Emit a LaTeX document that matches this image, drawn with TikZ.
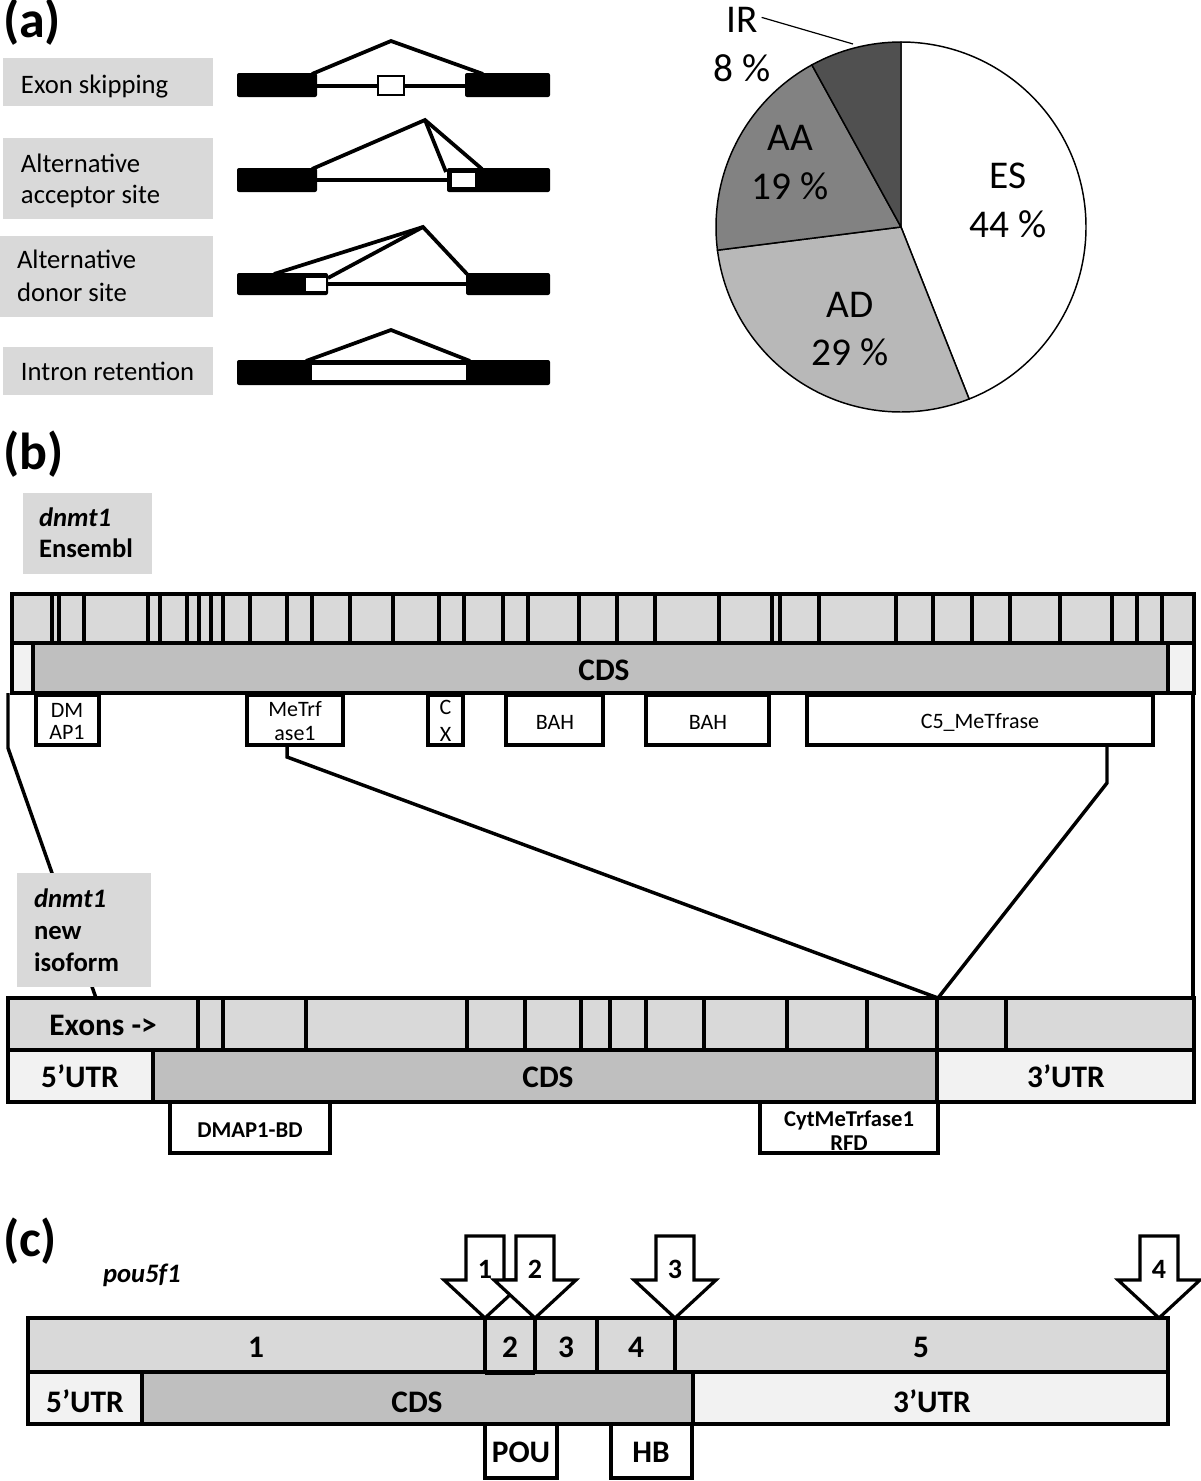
\documentclass[tikz,border=0pt]{standalone}
\usepackage{fontspec}
\setmainfont{Carlito}
\usetikzlibrary{calc}
\definecolor{labgray}{HTML}{D9D9D9}
\definecolor{exongray}{HTML}{D9D9D9}
\definecolor{cdsgray}{HTML}{BFBFBF}
\definecolor{utrgray}{HTML}{F2F2F2}
\definecolor{piead}{HTML}{B8B8B8}
\definecolor{pieaa}{HTML}{828282}
\definecolor{pieir}{HTML}{505050}
\newcommand{\mydnarrow}[3]{%
  \filldraw[fill=white,draw=black,line width=2.4pt,line join=miter]
    (#2-19,1236) -- (#2+19,1236) -- (#2+19,1280) -- (#2+41,1280) -- (#2,1318)
    -- (#2-41,1280) -- (#2-19,1280) -- cycle;
  \node[anum] (#1) at (#2,1278) {#3};}
\begin{document}
\begin{tikzpicture}[x=0.75pt,y=-0.75pt,
  every node/.style={inner sep=0pt,outer sep=0pt},
  panel/.style={font=\bfseries\fontsize{39}{44}\selectfont,anchor=base west},
  lab/.style={font=\fontsize{20}{24}\selectfont,anchor=base west},
  glab/.style={font=\bfseries\fontsize{20}{24}\selectfont,anchor=base west},
  pietxt/.style={font=\fontsize{29.5}{34}\selectfont,anchor=base},
  bartxt/.style={font=\bfseries\fontsize{23.5}{28}\selectfont,anchor=base},
  domtxt/.style={font=\fontsize{16.5}{20}\selectfont,anchor=base},
  bdomtxt/.style={font=\bfseries\fontsize{17}{20}\selectfont,anchor=base},
  anum/.style={font=\bfseries\fontsize{21}{24}\selectfont,anchor=base},
  lw/.style={line width=2.6pt},
  dlw/.style={line width=2.4pt},
  dombox/.style={draw=black,fill=white,line width=2.3pt,anchor=north west},
  blk/.style={fill=black,rounded corners=1.5pt},
  wbox/.style={fill=white,draw=black,line width=2.2pt},
  spl/.style={line width=2.8pt,line join=miter},
  conn/.style={line width=2.6pt,line join=miter}]
\useasboundingbox (0,0) rectangle (1200,1481);

% ================= panel (a) =================
\node[panel] (pa) at (3,37) {(a)};

\fill[labgray] (3,58) rectangle (213,106);
\node[lab] (l1) at (21,93) {Exon skipping};
\fill[labgray] (3,138) rectangle (213,219);
\node[lab] (l2a) at (21,172) {Alternative};
\node[lab] (l2b) at (21,203) {acceptor site};
\fill[labgray] (0,236) rectangle (213,317);
\node[lab] (l3a) at (17,268) {Alternative};
\node[lab] (l3b) at (17,301) {donor site};
\fill[labgray] (3,347) rectangle (213,395);
\node[lab] (l4) at (21,380) {Intron retention};

% row 1: exon skipping
\draw[spl] (317,86) -- (465,86);
\fill[blk] (237,73) rectangle (317,97);
\fill[blk] (465,73) rectangle (550,97);
\filldraw[wbox] (378,76) rectangle (404,95);
\draw[spl] (312,74) -- (391,41) -- (483,74);
% row 2: alternative acceptor
\draw[spl] (317,180) -- (447,180);
\fill[blk] (237,168) rectangle (317,192);
\fill[blk] (447,168) rectangle (550,192);
\filldraw[wbox] (451,172) rectangle (476,188);
\draw[spl] (312,169) -- (425,120) -- (482,169);
\draw[spl] (425,120) -- (446,172);
% row 3: alternative donor
\draw[spl] (328,284) -- (466,284);
\fill[blk] (237,273) rectangle (328,295);
\fill[blk] (466,273) rectangle (550,295);
\filldraw[wbox] (305,277) rectangle (327,292);
\draw[spl] (274,274) -- (423,227) -- (467,274);
\draw[spl] (328,278) -- (423,227);
% row 4: intron retention
\fill[blk] (237,360) rectangle (550,385);
\fill[white] (312,365) rectangle (466,380);
\draw[spl] (306,361) -- (391,330) -- (470,361);

% pie
\coordinate (pc) at (901,227);
\filldraw[fill=white,draw=black,line width=1.1pt] (pc) -- ++(-90:185) arc[start angle=-90,end angle=68.4,radius=185] -- cycle;
\filldraw[fill=piead,draw=black,line width=1.1pt] (pc) -- ++(68.4:185) arc[start angle=68.4,end angle=172.8,radius=185] -- cycle;
\filldraw[fill=pieaa,draw=black,line width=1.1pt] (pc) -- ++(172.8:185) arc[start angle=172.8,end angle=241.2,radius=185] -- cycle;
\filldraw[fill=pieir,draw=black,line width=1.1pt] (pc) -- ++(241.2:185) arc[start angle=241.2,end angle=270,radius=185] -- cycle;
\node[pietxt] (es1) at (1008,188) {ES};
\node[pietxt] (es2) at (1008,237) {44 \%};
\node[pietxt] (ad1) at (850,317) {AD};
\node[pietxt] (ad2) at (850,365) {29 \%};
\node[pietxt] (aa1) at (790,150) {AA};
\node[pietxt] (aa2) at (790,199) {19 \%};
\node[pietxt] (ir1) at (742,32) {IR};
\node[pietxt] (ir2) at (742,81) {8 \%};
\coordinate (irpt) at (853,44);
\draw[line width=0.9pt] ($(ir1.east)+(4,-2)$) -- (irpt);

% ================= panel (b) =================
\node[panel] (pb) at (3,469) {(b)};
\fill[labgray] (23,493) rectangle (152,574);
\node[glab] (g1a) at (39,526) {\itshape dnmt1};
\node[glab] (g1b) at (39,557) {Ensembl};

\coordinate (jn) at (938,998);
\coordinate (ensbl) at (8,693);
\coordinate (isotop) at (96,998);
\coordinate (ensbr) at (1193,693);
\coordinate (isobr) at (1193,998);

% Ensembl bar
\fill[exongray] (12,594) rectangle (1194,643);
\fill[utrgray] (12,643) rectangle (33,693);
\fill[cdsgray] (33,643) rectangle (1168,693);
\fill[utrgray] (1168,643) rectangle (1194,693);
\foreach \xx in {52,59,84,148,160,187,199,211,223,250,287,312,350,393,439,464,503,528,579,617,655,719,772,780,819,896,933,972,1010,1060,1112,1137,1162}
  \draw[dlw] (\xx,594) -- (\xx,643);
\draw[lw] (12,643) -- (1194,643);
\draw[lw] (33,643) -- (33,693);
\draw[lw] (1168,643) -- (1168,693);
\draw[lw] (12,594) rectangle (1194,693);
\node[bartxt] (cds1) at (604,680) {CDS};

% domains (Ensembl)
\node[dombox,minimum width=63*0.75pt,minimum height=50*0.75pt] (dmap) at (36,695) {};
\node[domtxt] at (67,717) {DM};
\node[domtxt] at (67,739) {AP1};
\node[dombox,minimum width=96*0.75pt,minimum height=50*0.75pt] (metrf) at (247,695) {};
\node[domtxt] at (295,716) {MeTrf};
\node[domtxt] at (295,740) {ase1};
\node[dombox,minimum width=35*0.75pt,minimum height=50*0.75pt] (cx) at (428,695) {};
\node[domtxt] at (445.5,714) {C};
\node[domtxt] at (445.5,741) {X};
\node[dombox,minimum width=97*0.75pt,minimum height=50*0.75pt] (bah1) at (506,695) {};
\node[domtxt] at (555,729) {BAH};
\node[dombox,minimum width=123*0.75pt,minimum height=50*0.75pt] (bah2) at (646,695) {};
\node[domtxt] at (708,729) {BAH};
\node[dombox,minimum width=346*0.75pt,minimum height=50*0.75pt] (c5) at (807,695) {};
\node[domtxt] at (980,728) {C5\_MeTfrase};

% connecting lines
\draw[conn] (ensbl) -- (8,748) -- (isotop);
\draw[conn] ($(metrf.south west)!0.417!(metrf.south east)$) -- ++(0,12) -- (jn);
\draw[conn] ($(c5.south west)!0.867!(c5.south east)$) -- ++(0,38) -- (jn);
\draw[conn] (ensbr) -- (isobr);

% new isoform label
\fill[labgray] (17,873) rectangle (151,987);
\node[glab] (g2a) at (34,907) {\itshape dnmt1};
\node[glab] (g2b) at (34,939) {new};
\node[glab] (g2c) at (34,971) {isoform};

% new isoform bar
\fill[exongray] (8,998) rectangle (1194,1050);
\fill[utrgray] (8,1050) rectangle (153,1102);
\fill[cdsgray] (153,1050) rectangle (937,1102);
\fill[utrgray] (937,1050) rectangle (1194,1102);
\foreach \xx in {198,223,306,581,610,646,704,787,867,937,1006}
  \draw[dlw] (\xx,998) -- (\xx,1050);
\draw[line width=3.4pt] (467,998) -- (467,1050);
\draw[line width=3pt] (525,998) -- (525,1050);
\draw[lw] (8,1050) -- (1194,1050);
\draw[lw] (153,1050) -- (153,1102);
\draw[lw] (937,1050) -- (937,1102);
\draw[lw] (8,998) rectangle (1194,1102);
\node[bartxt] (exons) at (103,1035) {Exons ->};
\node[bartxt] (utr5b) at (80,1087) {5’UTR};
\node[bartxt] (cds2) at (548,1087) {CDS};
\node[bartxt] (utr3b) at (1066,1087) {3’UTR};

\node[dombox,minimum width=160*0.75pt,minimum height=51*0.75pt] (dmapbd) at (170,1102) {};
\node[bdomtxt] at (250,1137) {DMAP1-BD};
\node[dombox,minimum width=178*0.75pt,minimum height=51*0.75pt] (cytme) at (760,1102) {};
\node[bdomtxt] at (849,1126) {CytMeTrfase1};
\node[bdomtxt] at (849,1150) {RFD};
\draw[line width=2.3pt] (760,1153) -- (938,1153);

% ================= panel (c) =================
\node[panel] (pcl) at (3,1256) {(c)};
\node[glab] (pou) at (103,1282) {\itshape pou5f1};

\fill[exongray] (28,1318) rectangle (1168,1372);
\fill[utrgray] (28,1372) rectangle (142,1424);
\fill[cdsgray] (142,1372) rectangle (693,1424);
\fill[utrgray] (693,1372) rectangle (1168,1424);
\foreach \xx in {485,535,597,675}
  \draw[dlw] (\xx,1318) -- (\xx,1372);
\draw[lw] (28,1372) -- (1168,1372);
\draw[line width=3pt] (485,1373) -- (535,1373);
\draw[lw] (142,1372) -- (142,1424);
\draw[lw] (693,1372) -- (693,1424);
\draw[lw] (28,1318) rectangle (1168,1424);
\node[bartxt] (e1) at (256,1357) {1};
\node[bartxt] (e2) at (510,1357) {2};
\node[bartxt] (e3) at (566,1357) {3};
\node[bartxt] (e4) at (636,1357) {4};
\node[bartxt] (e5) at (921,1357) {5};
\node[bartxt] (utr5c) at (85,1412) {5’UTR};
\node[bartxt] (cds3) at (417,1412) {CDS};
\node[bartxt] (utr3c) at (932,1412) {3’UTR};

\node[dombox,minimum width=72*0.75pt,minimum height=54*0.75pt] (poub) at (485,1424) {};
\node[bartxt] at (521,1462) {POU};
\node[dombox,minimum width=81*0.75pt,minimum height=54*0.75pt] (hbb) at (611,1424) {};
\node[bartxt] at (651,1462) {HB};

\mydnarrow{ar1}{485}{1}
\mydnarrow{ar2}{535}{2}
\mydnarrow{ar3}{675}{3}
\mydnarrow{ar4}{1159}{4}
\end{tikzpicture}
\end{document}
